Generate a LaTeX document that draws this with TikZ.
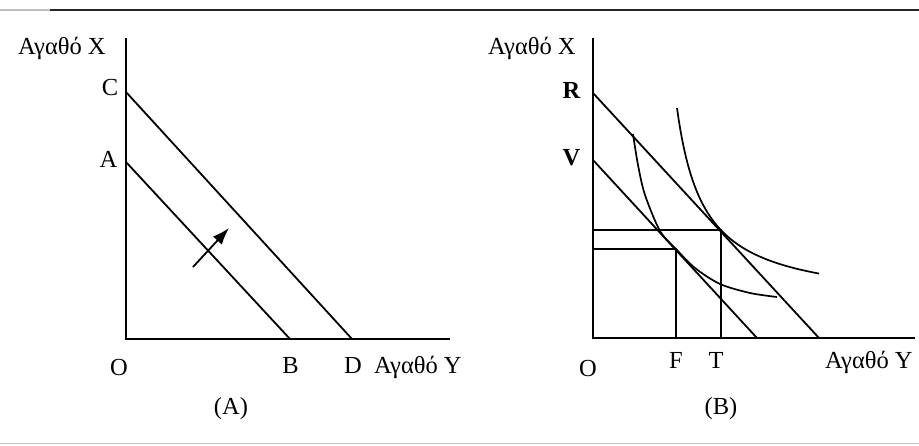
\documentclass[tikz,border=0pt]{standalone}
\usepackage{fontspec}
\setmainfont{Liberation Serif}
\usetikzlibrary{arrows.meta}
\begin{document}
\begin{tikzpicture}[x=1pt,y=-1pt,
  lbl/.style={font=\fontsize{24.5}{28}\selectfont, inner sep=0pt, anchor=base},
  lblw/.style={lbl, anchor=base west},
  axis/.style={line width=2.1pt},
  budget/.style={line width=1.8pt},
  icurve/.style={line width=1.7pt},
  guide/.style={line width=1.6pt},
  shiftarrow/.style={line width=1.8pt, -{Latex[length=17pt,width=12pt]}}]
\useasboundingbox (0,0) rectangle (919,445);
\fill[white] (0,0) rectangle (919,445);
% page rules
\coordinate (rl0) at (0,10); \coordinate (rl1) at (50,10); \coordinate (rl2) at (919,10);
\draw[gray!50, line width=1.5pt] (rl0) -- (rl1);
\draw[black!85, line width=2.6pt] (rl1) -- (rl2);
\coordinate (bl0) at (0,443); \coordinate (bl1) at (919,443);
\draw[gray!45, line width=1pt] (bl0) -- (bl1);
% ---------------- Panel A
\coordinate (Atop) at (126,38);
\coordinate (O1) at (126,339);
\coordinate (Aend) at (450,339);
\coordinate (pC) at (126,92); \coordinate (pD) at (352,339);
\coordinate (pA) at (126,162); \coordinate (pB) at (290,339);
\draw[axis] (Atop) -- (O1) -- (Aend);
\draw[budget] (pC) -- (pD);
\draw[budget] (pA) -- (pB);
\coordinate (ar0) at (193,267); \coordinate (ar1) at (229,228);
\draw[shiftarrow] (ar0) -- (ar1);
\node[lblw] (xA) at (18,54) {Αγαθό X};
\node[lbl] (lC) at (110,95) {C};
\node[lbl] (lA) at (108.5,167) {A};
\node[lbl] (lO1) at (119,375) {O};
\node[lbl] (lB) at (290.5,373) {B};
\node[lbl] (lD) at (353,373) {D};
\node[lblw] (yA) at (374,373) {Αγαθό Y};
\node[lbl] (capA) at (231,414) {(A)};
% ---------------- Panel B
\coordinate (Btop) at (593,38);
\coordinate (O2) at (593,338);
\coordinate (Bend) at (915,338);
\coordinate (pR) at (593,93); \coordinate (pRe) at (819,338);
\coordinate (pV) at (593,160); \coordinate (pVe) at (757,338);
\coordinate (T) at (721,230); \coordinate (F) at (676,249);
\coordinate (Tb) at (721,338); \coordinate (Fb) at (676,338);
\coordinate (hT) at (593,230); \coordinate (hF) at (593,249);
\draw[axis] (Btop) -- (O2) -- (Bend);
\draw[budget] (pR) -- (pRe);
\draw[budget] (pV) -- (pVe);
\draw[guide] (hT) -- (T) -- (Tb);
\draw[guide] (hF) -- (F) -- (Fb);
\draw[icurve] plot[domain=677:819, samples=80] (\x, {305-5317/(\x-650)});
\draw[icurve] plot[smooth] coordinates {(633,134) (638,165) (645,195) (660,231) (676,249) (695,268) (720,284) (750,293) (777,297)};
\node[lblw] (xB) at (488,54) {Αγαθό X};
\node[lbl, font=\fontsize{24.5}{28}\selectfont\bfseries] (lR) at (571.5,98) {R};
\node[lbl, font=\fontsize{24.5}{28}\selectfont\bfseries] (lV) at (571.5,165) {V};
\node[lbl] (lO2) at (588,376) {O};
\node[lbl] (lF) at (676,368) {F};
\node[lbl] (lT) at (716,368) {T};
\node[lblw] (yB) at (825,368) {Αγαθό Y};
\node[lbl] (capB) at (721,414) {(B)};
\end{tikzpicture}
\end{document}
